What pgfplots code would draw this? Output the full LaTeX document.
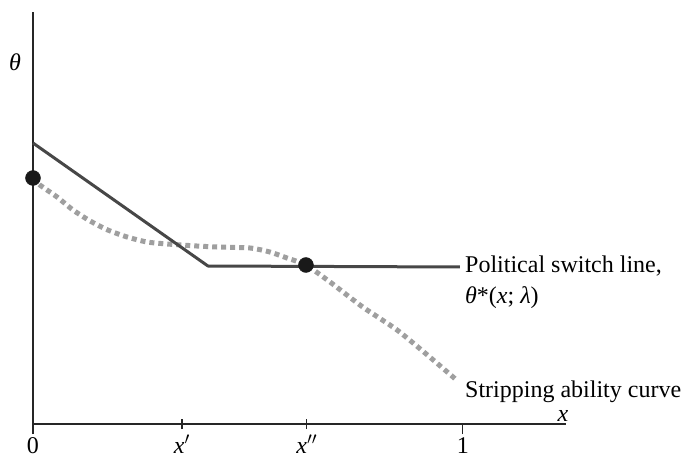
\documentclass[border=0pt]{standalone}
\usepackage{pgfplots}
\pgfplotsset{compat=1.18}
\usepackage{fontspec}
\setmainfont{Liberation Serif}
\begin{document}
\begin{tikzpicture}[x=1pt,y=1pt]
\useasboundingbox (-33pt,-34pt) rectangle (650pt,424pt);
\begin{axis}[
  at={(0pt,0pt)}, anchor=south west,
  scale only axis, width=533pt, height=412pt,
  xmin=0, xmax=1.24, ymin=0, ymax=412,
  axis lines=left, axis line style={-, line width=1.3pt, black!85},
  xtick={0.3465,0.637}, xticklabels={\textit{x}$'$,\textit{x}$''$},
  extra x ticks={0,1}, extra x tick labels={0,1},
  extra x tick style={tick align=outside, major tick length=10pt, xticklabel style={yshift=3pt}},
  ytick=\empty,
  tick align=center, major tick length=10pt,
  tick style={line width=1.2pt, black!85},
  every tick label/.style={font=\fontsize{24}{26}\selectfont},
  xticklabel style={anchor=north, inner sep=0pt, yshift=-6pt},
  clip=false,
]
\addplot[color=gray!75, line width=5pt, dash pattern=on 5pt off 4pt, smooth, tension=0.4] coordinates {
(0,246) (0.016,239) (0.056,227) (0.093,214) (0.133,203) (0.174,194) (0.219,187)
(0.265,182) (0.312,180) (0.381,178) (0.428,177) (0.505,176) (0.551,172) (0.591,166)
(0.635,159) (0.691,142) (0.767,117) (0.847,94) (0.923,67) (0.988,43)};
\addplot[color=black!72, line width=3pt] coordinates {(0,281) (0.407,158) (0.993,157)};
\addplot[only marks, mark=*, mark size=7.5pt, black!90] coordinates {(0,246) (0.635,159)};
\node[font=\fontsize{24}{26}\selectfont\itshape] at (axis cs:-0.042,362) {θ};
\node[anchor=base, font=\fontsize{24}{26}\selectfont\itshape, inner sep=0pt] at (axis cs:1.233,3) {x};
\node[anchor=base west, font=\fontsize{24}{26}\selectfont, inner sep=0pt] at (axis cs:1.005,151)
  {Political switch line,};
\node[anchor=base west, font=\fontsize{24}{26}\selectfont, inner sep=0pt] at (axis cs:1.005,121)
  {\textit{θ}*(\textit{x}; \textit{λ})};
\node[anchor=base west, font=\fontsize{24}{26}\selectfont, inner sep=0pt] at (axis cs:1.005,27) {Stripping ability curve};
\end{axis}
\end{tikzpicture}
\end{document}
